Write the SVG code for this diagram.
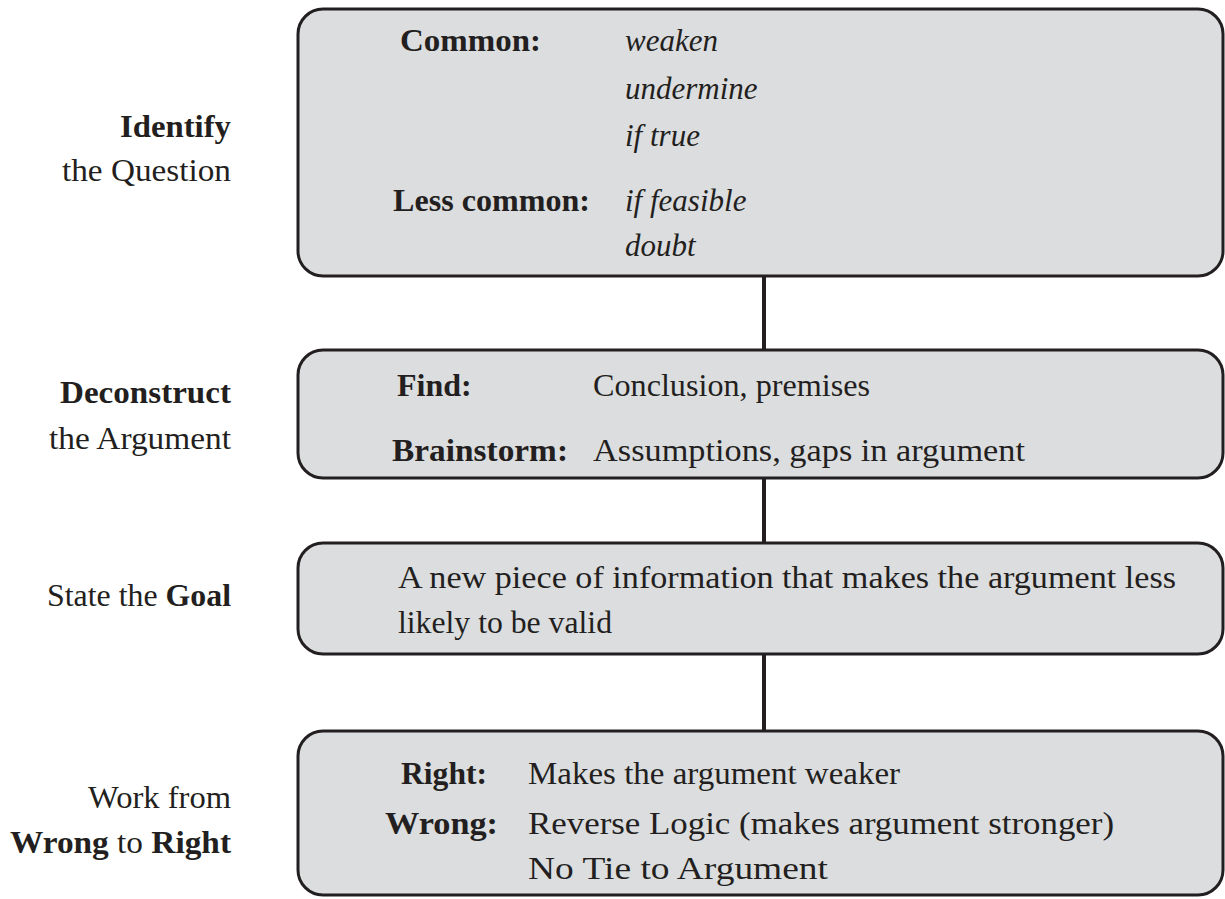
<svg xmlns="http://www.w3.org/2000/svg" width="1225" height="899" viewBox="0 0 1225 899">
<style>
.box{fill:#dcdddf;stroke:#231f20;stroke-width:3}
.con{stroke:#231f20;stroke-width:4;fill:none}
text{font-family:"Liberation Serif","Times New Roman",serif;font-size:32px;fill:#231f20}
.b{font-weight:bold}
.i{font-style:italic;font-size:31px}
</style>
<rect width="1225" height="899" fill="#ffffff"/>
<g id="connectors">
<line class="con" x1="764" y1="276" x2="764" y2="350"/>
<line class="con" x1="764" y1="478" x2="764" y2="543"/>
<line class="con" x1="764" y1="654" x2="764" y2="731"/>
</g>
<g id="identify">
<text class="b" x="120" y="137" textLength="111" lengthAdjust="spacingAndGlyphs">Identify</text>
<text x="62" y="181" textLength="169" lengthAdjust="spacingAndGlyphs">the Question</text>
<rect class="box" x="298" y="9" width="925" height="267" rx="25"/>
<text class="b" x="400" y="51" textLength="141" lengthAdjust="spacingAndGlyphs">Common:</text>
<text class="i" x="625" y="51">weaken</text>
<text class="i" x="625" y="99">undermine</text>
<text class="i" x="625" y="146">if true</text>
<text class="b" x="393" y="211" textLength="197" lengthAdjust="spacingAndGlyphs">Less common:</text>
<text class="i" x="625" y="211">if feasible</text>
<text class="i" x="625" y="256">doubt</text>
</g>
<g id="deconstruct">
<text class="b" x="60" y="403" textLength="171" lengthAdjust="spacingAndGlyphs">Deconstruct</text>
<text x="49" y="449" textLength="182" lengthAdjust="spacingAndGlyphs">the Argument</text>
<rect class="box" x="298" y="350" width="925" height="128" rx="25"/>
<text class="b" x="397" y="396">Find:</text>
<text x="593" y="396" textLength="277" lengthAdjust="spacingAndGlyphs">Conclusion, premises</text>
<text class="b" x="392" y="461" textLength="176" lengthAdjust="spacingAndGlyphs">Brainstorm:</text>
<text x="593" y="461" textLength="432" lengthAdjust="spacingAndGlyphs">Assumptions, gaps in argument</text>
</g>
<g id="goal">
<text x="47" y="606" textLength="184" lengthAdjust="spacingAndGlyphs">State the <tspan class="b">Goal</tspan></text>
<rect class="box" x="298" y="543" width="925" height="111" rx="25"/>
<text x="398" y="588" textLength="778" lengthAdjust="spacingAndGlyphs">A new piece of information that makes the argument less</text>
<text x="398" y="633" textLength="214" lengthAdjust="spacingAndGlyphs">likely to be valid</text>
</g>
<g id="work">
<text x="88" y="808" textLength="143" lengthAdjust="spacingAndGlyphs">Work from</text>
<text x="10" y="853" textLength="221" lengthAdjust="spacingAndGlyphs"><tspan class="b">Wrong</tspan> to <tspan class="b">Right</tspan></text>
<rect class="box" x="298" y="731" width="925" height="164" rx="25"/>
<text class="b" x="401" y="784" textLength="86" lengthAdjust="spacingAndGlyphs">Right:</text>
<text x="528" y="784" textLength="372" lengthAdjust="spacingAndGlyphs">Makes the argument weaker</text>
<text class="b" x="385" y="834" textLength="113" lengthAdjust="spacingAndGlyphs">Wrong:</text>
<text x="528" y="834" textLength="586" lengthAdjust="spacingAndGlyphs">Reverse Logic (makes argument stronger)</text>
<text x="528" y="879" textLength="300" lengthAdjust="spacingAndGlyphs">No Tie to Argument</text>
</g>
</svg>
